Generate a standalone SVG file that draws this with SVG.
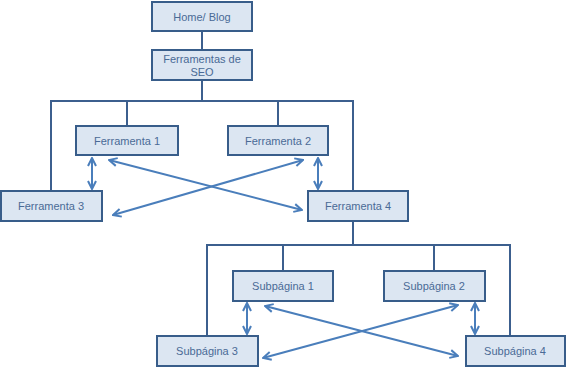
<svg xmlns="http://www.w3.org/2000/svg" width="567" height="370" viewBox="0 0 567 370">
<style>
.box{fill:#dce6f2;stroke:#385d8a;stroke-width:2}
.lbl{font-family:"Liberation Sans",Arial,sans-serif;font-size:11px;fill:#4a6a96;text-anchor:middle}
.ln{fill:none;stroke:#3c5f8e;stroke-width:2}
.ar{fill:none;stroke:#4a7ebb;stroke-width:2;marker-start:url(#ah);marker-end:url(#ah)}
</style>
<defs>
<marker id="ah" viewBox="0 0 10 10" refX="9" refY="5" markerWidth="5" markerHeight="5" orient="auto-start-reverse" markerUnits="strokeWidth">
<path d="M1,1 L9,5 L1,9" fill="none" stroke="#4a7ebb" stroke-width="2"/>
</marker>
</defs>
<rect width="567" height="370" fill="#ffffff"/>
<g id="connectors">
<path class="ln" d="M202,31 V50"/>
<path class="ln" d="M202,80 V101 M51,191 V101 H353 V191 M127,101 V126 M278,101 V126"/>
<path class="ln" d="M353,221 V245 M207,336 V245 H510 V336 M283,245 V271 M434,245 V271"/>
<path class="ar" d="M92,158 V189"/>
<path class="ar" d="M318,158 V189"/>
<path class="ar" d="M109,160 L302,210"/>
<path class="ar" d="M303,160 L113,215"/>
<path class="ar" d="M247,303 V334"/>
<path class="ar" d="M475,303 V334"/>
<path class="ar" d="M265,306 L458,356"/>
<path class="ar" d="M458,305 L263,358"/>
</g>
<g id="home"><rect class="box" x="152" y="2" width="100" height="29"/><text class="lbl" x="202" y="20.5">Home/ Blog</text></g>
<g id="seo"><rect class="box" x="152" y="50" width="100" height="30"/><text class="lbl" x="202" y="63">Ferramentas de</text><text class="lbl" x="202" y="76">SEO</text></g>
<g id="f1"><rect class="box" x="76" y="126" width="102" height="29"/><text class="lbl" x="127" y="144.5">Ferramenta 1</text></g>
<g id="f2"><rect class="box" x="228" y="126" width="100" height="29"/><text class="lbl" x="278" y="144.5">Ferramenta 2</text></g>
<g id="f3"><rect class="box" x="1" y="191" width="101" height="30"/><text class="lbl" x="51" y="210">Ferramenta 3</text></g>
<g id="f4"><rect class="box" x="308" y="191" width="100" height="30"/><text class="lbl" x="358" y="210">Ferramenta 4</text></g>
<g id="s1"><rect class="box" x="233" y="271" width="100" height="30"/><text class="lbl" x="283" y="290">Subpágina 1</text></g>
<g id="s2"><rect class="box" x="384" y="271" width="101" height="30"/><text class="lbl" x="434" y="290">Subpágina 2</text></g>
<g id="s3"><rect class="box" x="157" y="336" width="101" height="30"/><text class="lbl" x="207" y="355">Subpágina 3</text></g>
<g id="s4"><rect class="box" x="466" y="336" width="99" height="30"/><text class="lbl" x="515" y="355">Subpágina 4</text></g>
</svg>
